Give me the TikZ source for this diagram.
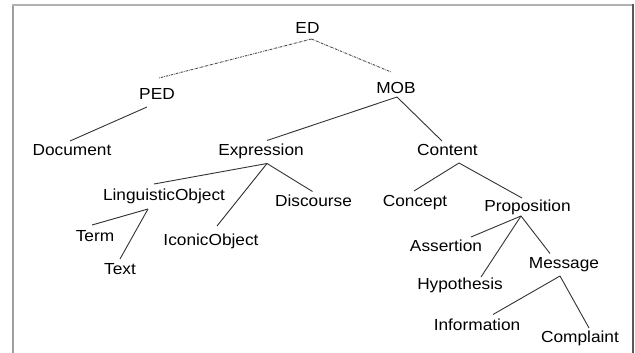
\documentclass[tikz,border=0pt]{standalone}
\usepackage{fontspec}
\setmainfont{Liberation Sans}[FakeStretch=1.08]
\begin{document}
\begin{tikzpicture}[x=1pt,y=-1pt,
  lbl/.style={inner sep=0pt,outer sep=0pt,text height=11.5pt,text depth=0pt,
    font=\fontsize{16}{19}\selectfont,text=black},
  edge/.style={draw=black!80,line width=0.9pt},
  dedge/.style={draw=black!70,line width=0.9pt,dash pattern=on 2.5pt off 1pt on 0.6pt off 1pt}]
\useasboundingbox (0,0) rectangle (635,353);
\fill[white] (0,0) rectangle (635,353);
% frame
\draw[gray!75,line width=2pt] (13,5) -- (13,353);
\draw[gray!60,line width=1.5pt] (12,5) -- (634,5);
\draw[black!65,line width=1.5pt] (633,4.5) -- (633,353);
% nodes
\node[lbl] (ED) at (307.5,28) {ED};
\node[lbl] (PED) at (157,94) {PED};
\node[lbl] (MOB) at (396,88) {MOB};
\node[lbl] (Doc) at (72,150) {Document};
\node[lbl] (Exp) at (261,149.5) {Expression};
\node[lbl] (Con) at (447.5,149.5) {Content};
\node[lbl] (LO) at (164,195) {LinguisticObject};
\node[lbl] (IO) at (211,240) {IconicObject};
\node[lbl] (Dis) at (313.5,200.5) {Discourse};
\node[lbl] (Term) at (95,236) {Term};
\node[lbl] (Text) at (120,269) {Text};
\node[lbl] (Cpt) at (415,201) {Concept};
\node[lbl] (Prop) at (527.5,206) {Proposition};
\node[lbl] (Ass) at (446,246) {Assertion};
\node[lbl] (Hyp) at (460,284) {Hypothesis};
\node[lbl] (Msg) at (564,262.5) {Message};
\node[lbl] (Inf) at (477,324.5) {Information};
\node[lbl] (Cmp) at (580,336.5) {Complaint};
% connectors
\draw[dedge] ([shift={(4,11)}]ED.center) -- ([shift={(2,-16)}]PED.center);
\draw[dedge] ([shift={(4,11)}]ED.center) -- ([shift={(-5,-16)}]MOB.center);
\draw[edge] ([shift={(-10,13)}]PED.center) -- ([shift={(-2,-9)}]Doc.center);
\draw[edge] ([shift={(1,9)}]MOB.center) -- ([shift={(6,-9)}]Exp.center);
\draw[edge] ([shift={(1,9)}]MOB.center) -- ([shift={(-5.5,-8.5)}]Con.center);
\draw[edge] ([shift={(6,14)}]Exp.center) -- ([shift={(-10,-11)}]LO.center);
\draw[edge] ([shift={(6,14)}]Exp.center) -- ([shift={(6,-14)}]IO.center);
\draw[edge] ([shift={(6,14)}]Exp.center) -- ([shift={(-1,-9)}]Dis.center);
\draw[edge] ([shift={(-16,14)}]LO.center) -- ([shift={(-3,-11)}]Term.center);
\draw[edge] ([shift={(-16,14)}]LO.center) -- ([shift={(0,-10)}]Text.center);
\draw[edge] ([shift={(11.5,13.5)}]Con.center) -- ([shift={(-1,-10)}]Cpt.center);
\draw[edge] ([shift={(11.5,13.5)}]Con.center) -- ([shift={(-5.5,-8)}]Prop.center);
\draw[edge] ([shift={(-6.5,10)}]Prop.center) -- ([shift={(25,-9)}]Ass.center);
\draw[edge] ([shift={(-6.5,10)}]Prop.center) -- ([shift={(21,-7)}]Hyp.center);
\draw[edge] ([shift={(-6.5,10)}]Prop.center) -- ([shift={(-14,-9)}]Msg.center);
\draw[edge] ([shift={(-4,13.5)}]Msg.center) -- ([shift={(16,-10)}]Inf.center);
\draw[edge] ([shift={(-4,13.5)}]Msg.center) -- ([shift={(9,-8.5)}]Cmp.center);
\end{tikzpicture}
\end{document}
